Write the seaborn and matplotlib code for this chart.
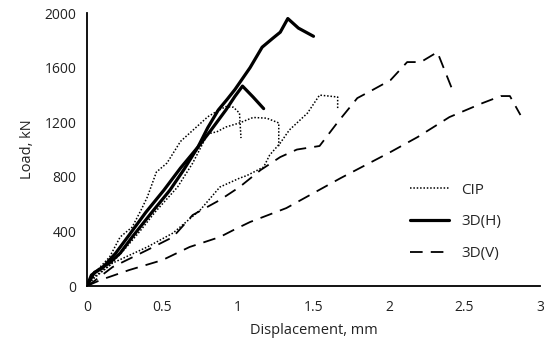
import matplotlib
matplotlib.use("Agg")
import matplotlib.pyplot as plt
from matplotlib.lines import Line2D
from matplotlib.ticker import MultipleLocator
import seaborn as sns
import pandas as pd

# ==========================================
# DATA
# ==========================================
# CIP specimens (dotted)
cip1_x = [0, 0.03, 0.08, 0.15, 0.22, 0.30, 0.36, 0.40, 0.46, 0.53, 0.62, 0.73, 0.80, 0.86, 0.92, 0.97, 1.01, 1.02]
cip1_y = [0, 60, 130, 212, 359, 432, 560, 652, 835, 901, 1060, 1170, 1240, 1280, 1315, 1310, 1267, 1084]

cip2_x = [0, 0.05, 0.15, 0.25, 0.35, 0.45, 0.60, 0.70, 0.80, 0.86, 0.92, 1.01, 1.10, 1.19, 1.27, 1.27]
cip2_y = [0, 60, 150, 270, 400, 540, 725, 900, 1115, 1130, 1165, 1195, 1235, 1230, 1195, 1018]

cip3_x = [0, 0.02, 0.17, 0.40, 0.57, 0.75, 0.88, 1.01, 1.06, 1.17, 1.21, 1.28, 1.34, 1.46, 1.54, 1.66, 1.66]
cip3_y = [0, 44, 168, 286, 388, 557, 725, 790, 810, 872, 960, 1048, 1143, 1267, 1399, 1385, 1300]

# 3D(H) specimens (thick solid)
h1_x = [0, 0.03, 0.08, 0.15, 0.22, 0.30, 0.43, 0.55, 0.64, 0.735, 0.80, 0.87, 0.93, 0.98, 1.08, 1.16, 1.23, 1.28, 1.33, 1.40, 1.50]
h1_y = [0, 80, 120, 170, 240, 359, 540, 703, 850, 1018, 1160, 1290, 1370, 1440, 1600, 1750, 1815, 1860, 1960, 1890, 1830]

h2_x = [0, 0.05, 0.10, 0.19, 0.27, 0.39, 0.51, 0.62, 0.735, 0.82, 0.92, 0.98, 1.03, 1.10, 1.17]
h2_y = [0, 100, 130, 240, 359, 540, 703, 865, 1018, 1140, 1290, 1390, 1465, 1385, 1300]

# 3D(V) specimens (dashed)
v1_x = [0, 0.04, 0.17, 0.40, 0.57, 0.70, 0.88, 1.01, 1.15, 1.28, 1.39, 1.54, 1.66, 1.79, 1.89, 2.01, 2.12, 2.21, 2.32, 2.42]
v1_y = [0, 29, 139, 264, 359, 520, 630, 725, 850, 945, 1000, 1026, 1200, 1377, 1436, 1509, 1641, 1641, 1714, 1436]

v2_x = [0, 0.09, 0.28, 0.50, 0.68, 0.88, 0.97, 1.08, 1.32, 1.50, 1.68, 2.01, 2.19, 2.40, 2.62, 2.74, 2.80, 2.87]
v2_y = [0, 44, 117, 190, 286, 359, 410, 469, 571, 681, 791, 982, 1092, 1238, 1341, 1392, 1392, 1253]

series_names = ["CIP", "3D(H)", "3D(V)"]
x_ticks = [0, 0.5, 1, 1.5, 2, 2.5, 3]
x_labels = ["0", "0.5", "1", "1.5", "2", "2.5", "3"]
y_ticks = [0, 400, 800, 1200, 1600, 2000]

curves = [
    ("CIP", cip1_x, cip1_y), ("CIP", cip2_x, cip2_y), ("CIP", cip3_x, cip3_y),
    ("3D(H)", h1_x, h1_y), ("3D(H)", h2_x, h2_y),
    ("3D(V)", v1_x, v1_y), ("3D(V)", v2_x, v2_y),
]

styles = {
    "CIP": dict(lw=1.1, ls=(0, (1, 1.2))),
    "3D(H)": dict(lw=2.3, ls="-"),
    "3D(V)": dict(lw=1.3, ls=(0, (7, 4.5))),
}

# ==========================================
# PLOT
# ==========================================
sns.set_style("white")
plt.rcParams["font.family"] = ["Open Sans", "DejaVu Sans"]

fig = plt.figure(figsize=(5.5, 3.49), dpi=100)
ax = fig.add_axes([0.158, 0.1805, 0.824, 0.782])

for name, xs, ys in curves:
    df = pd.DataFrame({"x": xs, "y": ys})
    sns.lineplot(data=df, x="x", y="y", sort=False, estimator=None,
                 color="black", ax=ax, **styles[name])

ax.set_xlim(0, 3)
ax.set_ylim(0, 2000)
ax.set_xticks(x_ticks)
ax.set_xticklabels(x_labels)
ax.set_yticks(y_ticks)
ax.xaxis.set_minor_locator(MultipleLocator(0.25))
ax.yaxis.set_minor_locator(MultipleLocator(200))
ax.tick_params(axis="both", which="both", direction="out", length=4, width=1,
               color="black", labelsize=10, labelcolor="#222222")
ax.tick_params(axis="x", pad=6)
ax.set_xlabel("Displacement, mm", fontsize=10.5, color="#222222", labelpad=6)
ax.set_ylabel("Load, kN", fontsize=10.5, color="#222222", labelpad=7)

for side in ["top", "right"]:
    ax.spines[side].set_visible(False)
for side in ["left", "bottom"]:
    ax.spines[side].set_color("black")
    ax.spines[side].set_linewidth(1.3)

handles = [Line2D([0], [0], color="black", **styles[n]) for n in series_names]
ax.legend(handles, series_names, loc="center left", bbox_to_anchor=(0.695, 0.235),
          frameon=False, fontsize=11, handlelength=2.6, handletextpad=0.8,
          labelspacing=1.1, borderpad=0)

fig.savefig("out.png", dpi=100)
